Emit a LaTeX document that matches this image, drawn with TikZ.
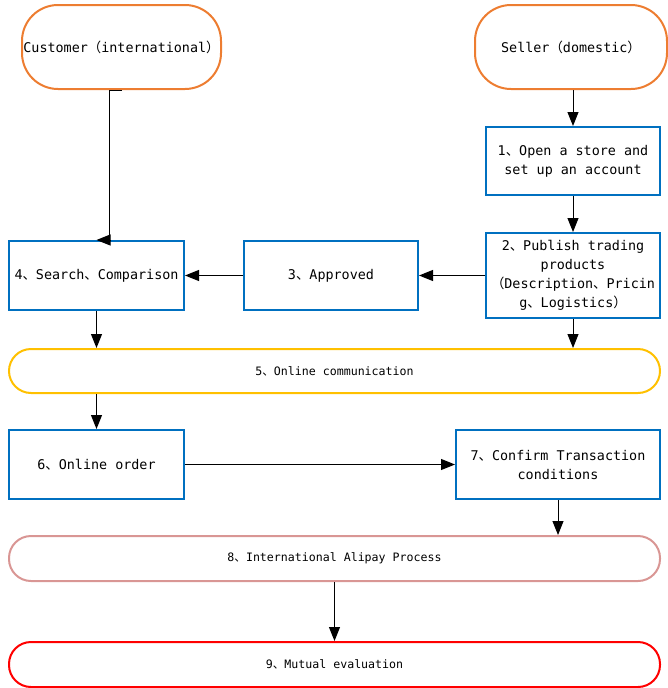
\documentclass[tikz,border=0pt]{standalone}
\usepackage{fontspec}
\setmainfont{DejaVu Sans Mono}
\newfontfamily\cjk{Noto Sans CJK SC}
\usetikzlibrary{arrows.meta}
\newcommand{\dn}{{\cjk 、}}
\newcommand{\lp}{{\cjk （}}
\newcommand{\rp}{{\cjk ）}}
\definecolor{orng}{HTML}{ED7D31}
\definecolor{blu}{HTML}{0070C0}
\definecolor{yel}{HTML}{FFC000}
\definecolor{pnk}{HTML}{D99694}
\definecolor{rd}{HTML}{FF0000}
\begin{document}
\begin{tikzpicture}[x=1pt,y=-1pt,
  base/.style={draw,line width=2pt,inner sep=0pt,align=center,font=\fontsize{13.4}{19}\selectfont},
  term/.style={base,draw=orng,rounded corners=36pt},
  proc/.style={base,draw=blu},
  pill/.style={base,rounded corners=22pt,font=\fontsize{11.6}{15}\selectfont},
  arr/.style={line width=1pt,-{Triangle[length=14pt,width=11pt]}}]
\useasboundingbox (0,0) rectangle (668,688);
\node[term,minimum width=199pt,minimum height=84pt] (cust) at (121.5,47) {Customer\lp international\rp};
\node[term,minimum width=192pt,minimum height=84pt] (sell) at (571,47) {Seller\lp domestic\rp};
\node[proc,minimum width=174pt,minimum height=68pt] (b1) at (573,161) {1\dn Open a store and\\set up an account};
\node[proc,minimum width=174pt,minimum height=85pt] (b2) at (573,275.5) {2\dn Publish trading\\products\\\lp Description\dn Pricin\\g\dn Logistics\rp};
\node[proc,minimum width=174pt,minimum height=69pt] (b3) at (331,275.5) {3\dn Approved};
\node[proc,minimum width=175pt,minimum height=69pt] (b4) at (96.5,275.5) {4\dn Search\dn Comparison};
\node[pill,draw=yel,minimum width=651pt,minimum height=44pt] (b5) at (334.5,371) {5\dn Online communication};
\node[proc,minimum width=175pt,minimum height=69pt] (b6) at (96.5,464.5) {6\dn Online order};
\node[proc,minimum width=204pt,minimum height=69pt] (b7) at (558,464.5) {7\dn Confirm Transaction\\conditions};
\node[pill,draw=pnk,minimum width=651pt,minimum height=45pt] (b8) at (334.5,558.5) {8\dn International Alipay Process};
\node[pill,draw=rd,minimum width=651pt,minimum height=45pt] (b9) at (334.5,664.5) {9\dn Mutual evaluation};
\draw[arr] (cust.south) -- ++(-12,0) |- (b4.north);
\draw[arr] (b1.north |- sell.south) -- (b1.north);
\draw[arr] (b1.south) -- (b2.north);
\draw[arr] (b2.west) -- (b3.east);
\draw[arr] (b3.west) -- (b4.east);
\draw[arr] (b4.south) -- (b4.south |- b5.north);
\draw[arr] (b2.south) -- (b2.south |- b5.north);
\draw[arr] (b6.north |- b5.south) -- (b6.north);
\draw[arr] (b6.east) -- (b7.west);
\draw[arr] (b7.south) -- (b7.south |- b8.north);
\draw[arr] (b8.south) -- (b9.north);
\end{tikzpicture}
\end{document}
